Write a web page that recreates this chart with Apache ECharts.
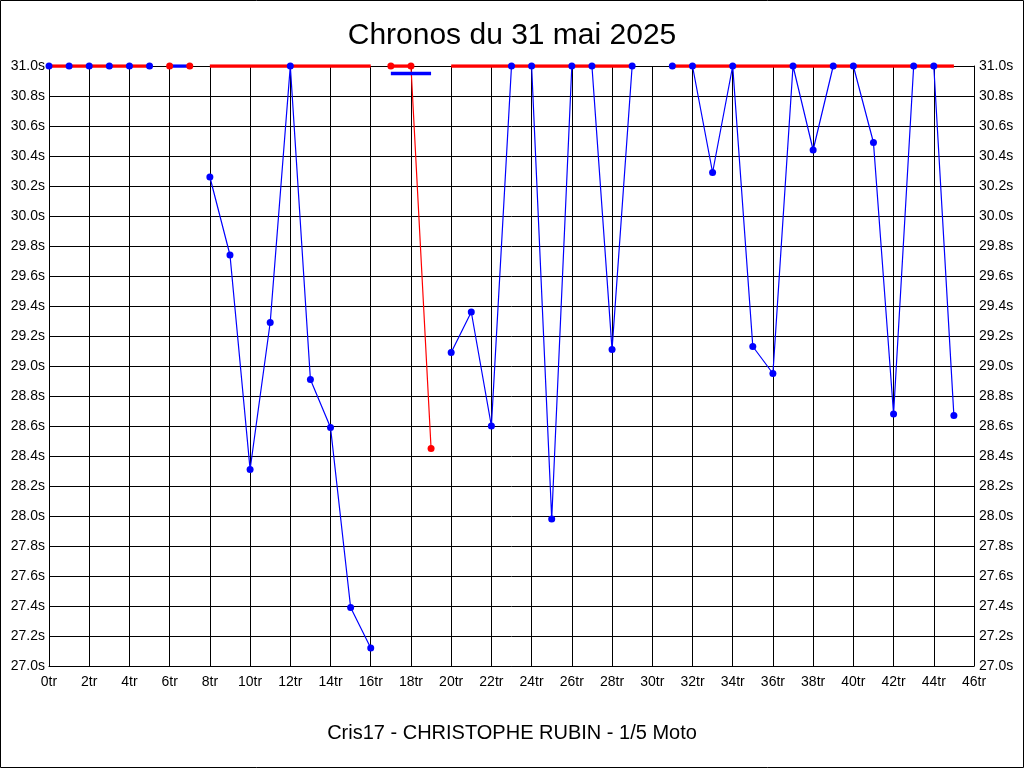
<!DOCTYPE html>
<html>
<head>
<meta charset="utf-8">
<script src="https://cdn.jsdelivr.net/npm/echarts@6/dist/echarts.min.js"></script>
<style>
html,body{margin:0;padding:0;background:#fff;}
#c{width:1024px;height:768px;}
</style>
</head>
<body>
<div id="c"></div>
<script>
// ---- data ----
const titleText = 'Chronos du 31 mai 2025';
const footerText = 'Cris17 - CHRISTOPHE RUBIN - 1/5 Moto';
const xTickMax = 46;
const yMin = 27.0, yMax = 31.0;
// lap times (blue), clipped to 31.0 ; null = no blue point
const blueTimes = [
  31.0, 31.0, 31.0, 31.0, 31.0, 31.0, null, null,
  30.26, 29.74, 28.31, 29.29, 31.0, 28.91, 28.59, 27.39, 27.12,
  null, null, null,
  29.09, 29.36, 28.60, 31.0, 31.0, 27.98, 31.0, 31.0, 29.11, 31.0,
  null,
  31.0, 31.0, 30.29, 31.0, 29.13, 28.95, 31.0, 30.44, 31.0, 31.0, 30.49, 28.68, 31.0, 31.0, 28.67
];
// red laps ; null = no red point
const redTimes = [
  null, null, null, null, null, null, 31.0, 31.0,
  null, null, null, null, null, null, null, null, null,
  31.0, 31.0, 28.45
];
// thick red bands at the top [fromLap, toLap]
const redBands = [[0, 5], [8, 16], [17, 18], [20, 29], [31, 45]];
const redBandLevel = 31.0;
// thick blue bars [fromLap, toLap, level]
const blueBars = [[6, 7, 31.0], [17, 19, 30.95]];

// ---- chart ----
const FONT = 'Liberation Sans, Arial, sans-serif';
const toPairs = arr => arr.map((v, i) => [i, v == null ? '-' : v]);
const series = [];

series.push({
  type: 'line', name: 'blueLine', data: toPairs(blueTimes), symbol: 'none',
  lineStyle: {color: '#0000ff', width: 1.2, opacity: 1}, connectNulls: false, z: 2, silent: true, animation: false
});
series.push({
  type: 'line', name: 'redLine', data: toPairs(redTimes), symbol: 'none',
  lineStyle: {color: '#ff0000', width: 1.2, opacity: 1}, connectNulls: false, z: 2, silent: true, animation: false
});
redBands.forEach((b, k) => {
  series.push({
    type: 'line', name: 'redBand' + k, data: [[b[0], redBandLevel], [b[1], redBandLevel]], symbol: 'none',
    lineStyle: {color: '#ff0000', width: 3.5, cap: 'butt', opacity: 1}, z: 3, silent: true, animation: false
  });
});
blueBars.forEach((b, k) => {
  series.push({
    type: 'line', name: 'blueBar' + k, data: [[b[0], b[2]], [b[1], b[2]]], symbol: 'none',
    lineStyle: {color: '#0000ff', width: 3.5, cap: 'butt', opacity: 1}, z: 4, silent: true, animation: false
  });
});
series.push({
  type: 'scatter', name: 'blueDots', data: toPairs(blueTimes).filter(p => p[1] !== '-'),
  symbol: 'circle', symbolSize: 7, itemStyle: {color: '#0000ff', opacity: 1}, z: 5, silent: true, animation: false
});
series.push({
  type: 'scatter', name: 'redDots', data: toPairs(redTimes).filter(p => p[1] !== '-'),
  symbol: 'circle', symbolSize: 7, itemStyle: {color: '#ff0000', opacity: 1}, z: 5, silent: true, animation: false
});

const yLabel = v => v.toFixed(1) + 's';
const yAxisCommon = {
  type: 'value', min: yMin, max: yMax, interval: 0.2,
  axisLine: {show: true, lineStyle: {color: '#000', width: 1}},
  axisTick: {show: false},
  axisLabel: {formatter: yLabel, color: '#000', fontSize: 14, fontFamily: FONT, margin: 4},
  splitLine: {show: true, lineStyle: {color: '#000', width: 1}}
};

const chart = echarts.init(document.getElementById('c'), null, {renderer: 'canvas'});
chart.setOption({
  backgroundColor: '#ffffff',
  animation: false,
  title: {
    text: titleText, left: 'center', top: 16,
    textStyle: {fontSize: 30, fontWeight: 'normal', color: '#000', fontFamily: FONT}
  },
  grid: {left: 49, right: 50, top: 66, bottom: 102, containLabel: false},
  xAxis: {
    type: 'value', min: 0, max: xTickMax, interval: 2,
    axisLine: {show: true, onZero: false, lineStyle: {color: '#000', width: 1}},
    axisTick: {show: false},
    axisLabel: {formatter: '{value}tr', color: '#000', fontSize: 14, fontFamily: FONT, margin: 9},
    splitLine: {show: true, lineStyle: {color: '#000', width: 1}}
  },
  yAxis: [
    Object.assign({}, yAxisCommon, {position: 'left'}),
    Object.assign({}, yAxisCommon, {position: 'right', splitLine: {show: false}, axisLabel: Object.assign({}, yAxisCommon.axisLabel, {margin: 5})})
  ],
  series: series,
  graphic: [
    {type: 'rect', shape: {x: 0.5, y: 0.5, width: 1023, height: 767}, style: {fill: 'none', stroke: '#000', lineWidth: 1}, silent: true},
    {type: 'text', x: 512, y: 733, style: {text: footerText, fontSize: 20, fontFamily: FONT, fill: '#000', align: 'center', verticalAlign: 'middle'}, silent: true}
  ]
});
</script>
</body>
</html>
